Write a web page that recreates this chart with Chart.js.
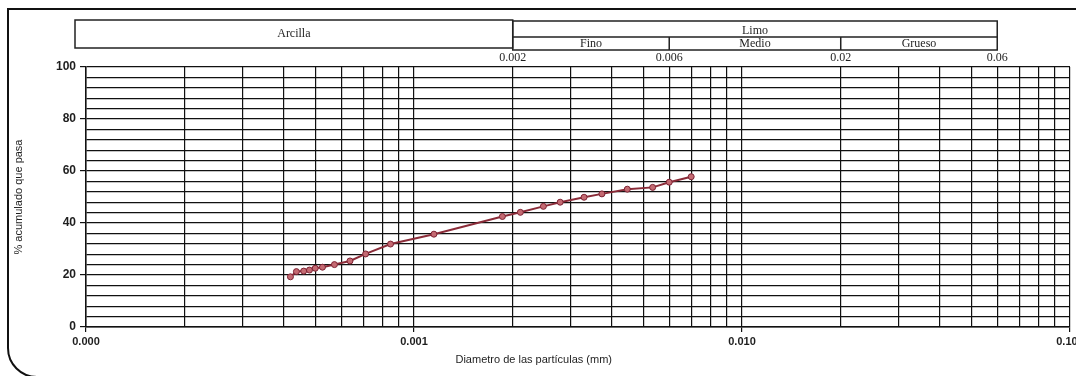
<!DOCTYPE html>
<html>
<head>
<meta charset="utf-8">
<script src="https://cdn.jsdelivr.net/npm/chart.js@4.4.1/dist/chart.umd.min.js"></script>
<style>
    html, body { margin: 0; padding: 0; background: #fff; overflow: hidden; }
    /* marco escaneado alrededor de la hoja */
    #marco {
        position: absolute; left: 7px; top: 8px;
        width: 1200px; height: 370px;
        border: 2px solid #111; border-bottom-left-radius: 30px;
        box-sizing: border-box;
    }
    #wrap { position: absolute; left: 0; top: 0; width: 1076px; height: 376px; }
</style>
</head>
<body>
<div id="marco"></div>
<div id="wrap"><canvas id="granulometria" width="1076" height="376"></canvas></div>

<script>
// ====================================================
// DATOS (leídos de la curva de sedimentación)
// ====================================================
const diametros = [0.00042, 0.000438, 0.000461, 0.00048, 0.0005, 0.000526, 0.000572, 0.000638,
                   0.000712, 0.000848, 0.00115, 0.00186, 0.00211, 0.00248, 0.00279, 0.0033,
                   0.00374, 0.00447, 0.00534, 0.0060, 0.0070];
const pasa = [19.3, 21.3, 21.5, 21.9, 22.6, 23.0, 24.0, 25.4,
              28.1, 31.9, 35.7, 42.5, 44.1, 46.4, 48.0, 49.9,
              51.2, 53.0, 53.7, 55.7, 57.8];

// rejilla logarítmica: 1..9 por década
const decadas = [0.0001, 0.001, 0.01];
const xTicks = decadas.flatMap(d => [1, 2, 3, 4, 5, 6, 7, 8, 9].map(k => +(k * d).toPrecision(3))).concat([0.1]);
const yTicks = [0, 4, 8, 12, 16, 20, 24, 28, 32, 36, 40, 44, 48, 52, 56, 60, 64, 68, 72, 76, 80, 84, 88, 92, 96, 100];
const yEtiquetas = [0, 20, 40, 60, 80, 100];

// cabecera de clasificación (límites en mm)
const limites = [0.002, 0.006, 0.02, 0.06];
const limiteEtiquetas = ['0.002', '0.006', '0.02', '0.06'];
const subclasesLimo = ['Fino', 'Medio', 'Grueso'];

const COLOR_REJILLA = '#111';
const COLOR_TEXTO = '#1e1e1e';
const FUENTE = "'Liberation Sans', Arial, sans-serif";

function esDecada(v) {
    return decadas.concat([0.1]).some(d => Math.abs(v - d) < d * 1e-6);
}

// ====================================================
// CABECERA ARCILLA / LIMO Y TÍTULO DEL EJE X
// ====================================================
const cabecera = {
    id: 'cabecera',
    afterDraw(chart) {
        const { ctx, chartArea, scales } = chart;
        const px = v => scales.x.getPixelForValue(v);
        const xA = chartArea.left - 11;
        const [x002, x006, x02, x06] = limites.map(px);

        ctx.save();
        ctx.strokeStyle = '#222';
        ctx.lineWidth = 1.5;

        // caja Arcilla
        ctx.strokeRect(xA, 20, x002 - xA, 28);
        // caja Limo
        ctx.strokeRect(x002, 21, x06 - x002, 29);
        ctx.beginPath();
        ctx.moveTo(x002, 37); ctx.lineTo(x06, 37);
        ctx.moveTo(x006, 37); ctx.lineTo(x006, 50);
        ctx.moveTo(x02, 37); ctx.lineTo(x02, 50);
        ctx.stroke();

        ctx.fillStyle = COLOR_TEXTO;
        ctx.textAlign = 'center';
        ctx.textBaseline = 'middle';
        ctx.font = "12px 'Liberation Serif', serif";
        ctx.fillText('Arcilla', (xA + x002) / 2, 34);
        ctx.fillText('Limo', (x002 + x06) / 2, 31);
        const bordes = [x002, x006, x02, x06];
        subclasesLimo.forEach((t, i) => {
            ctx.fillText(t, (bordes[i] + bordes[i + 1]) / 2, 44);
        });
        limites.forEach((v, i) => {
            ctx.fillText(limiteEtiquetas[i], px(v), 58);
        });

        // título eje X
        ctx.font = '11px ' + FUENTE;
        ctx.fillText('Diametro de las partículas (mm)',
            chartArea.left + (chartArea.right - chartArea.left) * 0.455, 360);
        ctx.restore();
    }
};

// ====================================================
// GRÁFICO
// ====================================================
const ctx = document.getElementById('granulometria').getContext('2d');
new Chart(ctx, {
    type: 'scatter',
    data: {
        datasets: [{
            data: diametros.map((d, i) => ({ x: d, y: pasa[i] })),
            showLine: true,
            borderColor: '#8a2b38',
            borderWidth: 2,
            pointRadius: 3,
            pointBackgroundColor: '#c46a72',
            pointBorderColor: '#7d2233',
            pointBorderWidth: 1
        }]
    },
    options: {
        responsive: false,
        animation: false,
        layout: { autoPadding: false, padding: { left: 12, right: 6, top: 67, bottom: 0 } },
        plugins: {
            legend: { display: false },
            tooltip: { enabled: false }
        },
        scales: {
            x: {
                type: 'logarithmic',
                min: 0.0001,
                max: 0.1,
                afterBuildTicks: s => { s.ticks = xTicks.map(v => ({ value: v })); },
                afterFit: s => {
                    s.height = 49;
                    // la etiqueta 0.100 queda cortada en el borde, como en el original
                    s.paddingLeft = 0;
                    s.paddingRight = 0;
                },
                border: { color: COLOR_REJILLA, width: 1.5 },
                grid: {
                    color: COLOR_REJILLA,
                    lineWidth: 1.2,
                    tickLength: 5,
                    tickColor: c => esDecada(c.tick.value) ? COLOR_REJILLA : 'rgba(0,0,0,0)'
                },
                ticks: {
                    autoSkip: false,
                    maxRotation: 0,
                    padding: 3,
                    color: COLOR_TEXTO,
                    font: { family: FUENTE, size: 11, weight: 'bold' },
                    callback: v => esDecada(v) ? v.toFixed(3) : ''
                }
            },
            y: {
                min: 0,
                max: 100,
                afterBuildTicks: s => { s.ticks = yTicks.map(v => ({ value: v })); },
                afterFit: s => { s.width = 74; },
                border: { color: COLOR_REJILLA, width: 1.5 },
                grid: {
                    color: COLOR_REJILLA,
                    lineWidth: 1.2,
                    tickLength: 6,
                    tickColor: c => yEtiquetas.includes(c.tick.value) ? COLOR_REJILLA : 'rgba(0,0,0,0)'
                },
                ticks: {
                    autoSkip: false,
                    padding: 4,
                    color: COLOR_TEXTO,
                    font: { family: FUENTE, size: 12, weight: 'bold' },
                    callback: v => yEtiquetas.includes(v) ? v : ''
                },
                title: {
                    display: true,
                    text: '% acumulado que pasa',
                    color: COLOR_TEXTO,
                    padding: { top: 0, bottom: 0 },
                    font: { family: FUENTE, size: 11 }
                }
            }
        }
    },
    plugins: [cabecera]
});
</script>
</body>
</html>
